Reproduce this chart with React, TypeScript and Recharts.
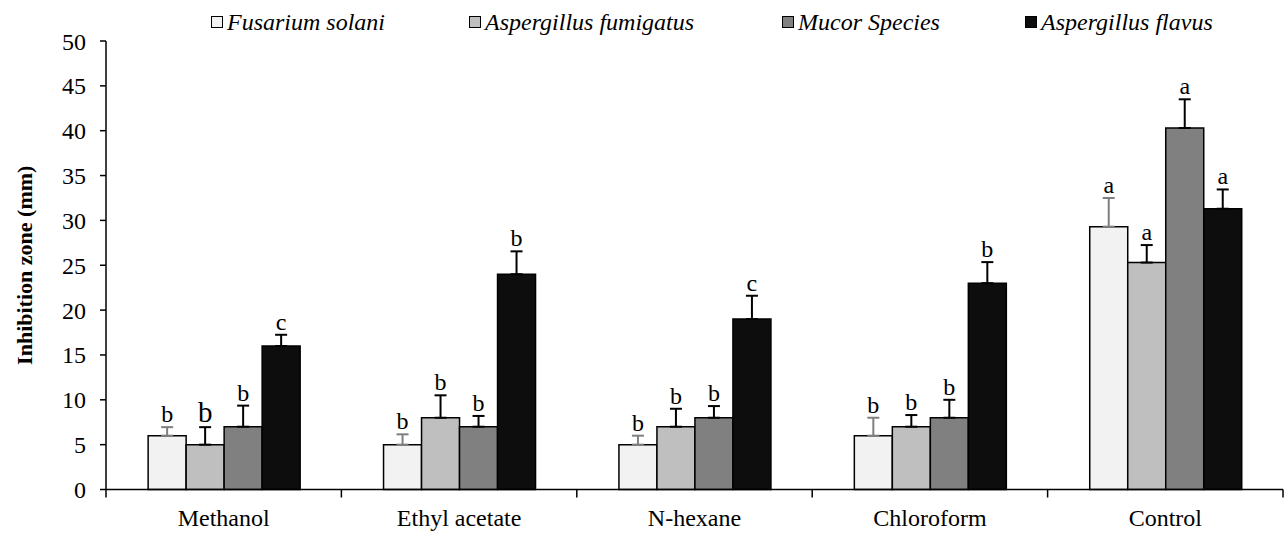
import React from "react";
import { BarChart, Bar, XAxis, YAxis, ErrorBar, LabelList } from "recharts";

// inhibition zone (mm), mean and sd per solvent extract
const solvents = ["Methanol", "Ethyl acetate", "N-hexane", "Chloroform", "Control"];

const fusariumMean = [6, 5, 5, 6, 29.3];
const fusariumSd = [0.95, 1.15, 1.0, 2.0, 3.2];
const fusariumLetters = ["b", "b", "b", "b", "a"];

const fumigatusMean = [5, 8, 7, 7, 25.3];
const fumigatusSd = [1.95, 2.5, 2.0, 1.3, 1.95];
const fumigatusLetters = ["b", "b", "b", "b", "a"];

const mucorMean = [7, 7, 8, 8, 40.3];
const mucorSd = [2.35, 1.2, 1.3, 2.0, 3.2];
const mucorLetters = ["b", "b", "b", "b", "a"];

const flavusMean = [16, 24, 19, 23, 31.3];
const flavusSd = [1.25, 2.55, 2.6, 2.35, 2.15];
const flavusLetters = ["c", "b", "c", "b", "a"];

const yTicks = [0, 5, 10, 15, 20, 25, 30, 35, 40, 45, 50];

const FONT = "'Liberation Serif', 'Times New Roman', serif";
const W = 1288;
const H = 534;
const X_AXIS_H = 44;
const MARGIN = { top: 41, right: 5, bottom: 0.5, left: 12 };
const Y_AXIS_W = 94;
const BAND = (W - MARGIN.left - MARGIN.right - Y_AXIS_W) / solvents.length;

const series = [
  { key: "fusarium", name: "Fusarium solani", fill: "#F2F2F2", err: "#7F7F7F", means: fusariumMean, sds: fusariumSd, letters: fusariumLetters },
  { key: "fumigatus", name: "Aspergillus fumigatus", fill: "#BFBFBF", err: "#000000", means: fumigatusMean, sds: fumigatusSd, letters: fumigatusLetters },
  { key: "mucor", name: "Mucor Species", fill: "#808080", err: "#000000", means: mucorMean, sds: mucorSd, letters: mucorLetters },
  { key: "flavus", name: "Aspergillus flavus", fill: "#0D0D0D", err: "#000000", means: flavusMean, sds: flavusSd, letters: flavusLetters },
];

const data = solvents.map((solvent, i) => {
  const row: Record<string, any> = { solvent };
  series.forEach((s) => {
    row[s.key] = s.means[i];
    row[s.key + "Err"] = [0, s.sds[i]];
  });
  return row;
});

// legend x positions as in the original figure
const legendLeft = [211, 469, 782, 1025];

const letterContent = (s: (typeof series)[number]) => (props: any) => {
  const vb = props.viewBox ?? props;
  const index = props.index;
  if (index == null) return null;
  const x = Number(vb.x ?? props.x);
  const y = Number(vb.y ?? props.y);
  const w = Number(vb.width ?? props.width);
  const h = Number(vb.height ?? props.height);
  const v = s.means[index];
  const top = y - s.sds[index] * (h / v);
  const big = s.key === "fumigatus" && index === 0;
  return (
    <text
      x={x + w / 2}
      y={top - 5}
      textAnchor="middle"
      fontFamily={FONT}
      fontSize={big ? 29 : 24}
      fill="#000"
    >
      {s.letters[index]}
    </text>
  );
};

const CategoryTick = (props: any) => {
  const { x, payload, index } = props;
  const left = x - BAND / 2;
  const right = x + BAND / 2;
  const axisY = H - MARGIN.bottom - X_AXIS_H;
  return (
    <g>
      <line x1={left} x2={left} y1={axisY} y2={axisY + 8} stroke="#000" strokeWidth={1.5} />
      {index === solvents.length - 1 && (
        <line x1={right} x2={right} y1={axisY} y2={axisY + 8} stroke="#000" strokeWidth={1.5} />
      )}
      <text x={x} y={axisY + 36} textAnchor="middle" fontFamily={FONT} fontSize={24} fill="#000">
        {payload.value}
      </text>
    </g>
  );
};

export default function App() {
  const midY = (MARGIN.top + H - MARGIN.bottom - X_AXIS_H) / 2;
  return (
    <div style={{ position: "relative", width: W, height: H, background: "#fff" }}>
      <style>{"body{margin:0}"}</style>
      <div style={{ position: "absolute", top: 8, left: 0, width: W, height: 28 }}>
        {series.map((s, i) => (
          <div
            key={s.key}
            style={{
              position: "absolute",
              left: legendLeft[i],
              top: 0,
              height: 28,
              display: "flex",
              alignItems: "center",
              gap: 4,
              fontFamily: FONT,
              fontStyle: "italic",
              fontSize: 24,
              whiteSpace: "nowrap",
            }}
          >
            <span
              style={{
                display: "inline-block",
                width: 10,
                height: 10,
                background: s.fill,
                border: "1.5px solid #000",
              }}
            />
            <span>{s.name}</span>
          </div>
        ))}
      </div>
      <BarChart
        width={W}
        height={H}
        data={data}
        margin={MARGIN}
        barCategoryGap="17.9%"
        barGap={0}
      >
        <XAxis
          dataKey="solvent"
          tickLine={false}
          axisLine={{ stroke: "#000", strokeWidth: 1.5 }}
          tick={<CategoryTick />}
          height={X_AXIS_H}
          interval={0}
        />
        <YAxis
          width={Y_AXIS_W}
          domain={[0, 50]}
          ticks={yTicks}
          interval={0}
          tickSize={6}
          tickMargin={14}
          tickLine={{ stroke: "#000", strokeWidth: 1.5 }}
          axisLine={{ stroke: "#000", strokeWidth: 1.5 }}
          tick={{ fontFamily: FONT, fontSize: 24, fill: "#000" }}
          label={{
            content: () => (
              <text
                x={24}
                y={midY}
                transform={`rotate(-90, 24, ${midY})`}
                textAnchor="middle"
                dominantBaseline="central"
                fontFamily={FONT}
                fontWeight="bold"
                fontSize={22}
                fill="#000"
              >
                Inhibition zone (mm)
              </text>
            ),
          }}
        />
        {series.map((s) => (
          <Bar
            key={s.key}
            dataKey={s.key}
            name={s.name}
            fill={s.fill}
            stroke="#000"
            strokeWidth={1.5}
            isAnimationActive={false}
          >
            <ErrorBar
              dataKey={s.key + "Err"}
              direction="y"
              width={6}
              stroke={s.err}
              strokeWidth={2}
            />
            <LabelList dataKey={s.key} content={letterContent(s)} />
          </Bar>
        ))}
      </BarChart>
    </div>
  );
}
